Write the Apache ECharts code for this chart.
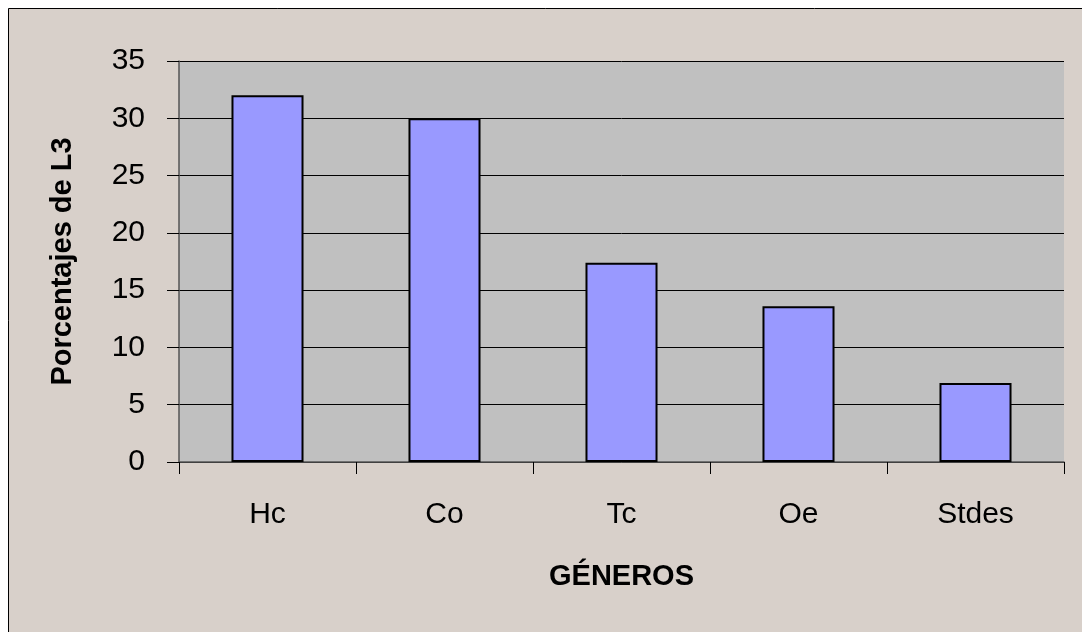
<!DOCTYPE html>
<html><head><meta charset="utf-8">
<script src="https://cdn.jsdelivr.net/npm/echarts@6/dist/echarts.min.js"></script>
<style>html,body{margin:0;padding:0;background:#fff}#c{width:1082px;height:632px}</style>
</head><body><div id="c"></div>
<script>
const categories = ['Hc', 'Co', 'Tc', 'Oe', 'Stdes'];
const values = [32, 30, 17.4, 13.6, 6.9];
const yTicks = { min: 0, max: 35, interval: 5 };

const FONT = 'Liberation Sans, Arial, sans-serif';
const chart = echarts.init(document.getElementById('c'), null, { renderer: 'canvas' });
chart.setOption({
  backgroundColor: '#ffffff',
  animation: false,
  graphic: [{
    type: 'rect', z: -10, silent: true,
    shape: { x: 8.5, y: 8.5, width: 1090, height: 640 },
    style: { fill: '#D8D0CA', stroke: '#000', lineWidth: 1 }
  }],
  grid: { left: 179, top: 61, right: 18, bottom: 170, show: true, backgroundColor: '#C0C0C0', borderWidth: 0 },
  xAxis: {
    type: 'category', data: categories,
    name: 'GÉNEROS', nameLocation: 'middle', nameGap: 100,
    nameTextStyle: { fontFamily: FONT, fontSize: 29, fontWeight: 'bold', color: '#000' },
    axisLine: { lineStyle: { color: '#555', width: 1.5 } },
    axisTick: { show: true, length: 12, lineStyle: { color: '#000' } },
    axisLabel: { fontFamily: FONT, fontSize: 30, color: '#000', margin: 38 }
  },
  yAxis: {
    type: 'value', min: yTicks.min, max: yTicks.max, interval: yTicks.interval,
    name: 'Porcentajes de L3', nameLocation: 'middle', nameGap: 102, nameRotate: 90,
    nameTextStyle: { fontFamily: FONT, fontSize: 29, fontWeight: 'bold', color: '#000' },
    axisLine: { show: true, lineStyle: { color: '#555', width: 1.5 } },
    axisTick: { show: true, length: 12, lineStyle: { color: '#000' } },
    axisLabel: { fontFamily: FONT, fontSize: 30, color: '#000', margin: 34 },
    splitLine: { show: true, lineStyle: { color: '#000', width: 1 } }
  },
  series: [{
    type: 'bar', data: values, barWidth: '40.7%',
    itemStyle: { color: '#9999FF', borderColor: '#000', borderWidth: 2 }
  }]
});
</script></body></html>
